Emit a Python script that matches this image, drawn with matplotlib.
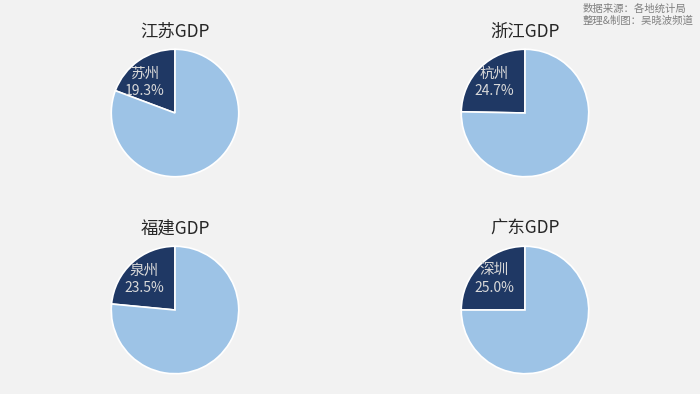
import matplotlib
matplotlib.use("Agg")
import matplotlib.pyplot as plt

plt.rcParams["font.family"] = ["Noto Sans CJK SC", "DejaVu Sans"]

# data
provinces = ["江苏GDP", "浙江GDP", "福建GDP", "广东GDP"]
cities = ["苏州", "杭州", "泉州", "深圳"]
shares = [19.3, 24.7, 23.5, 25.0]

W, H = 700, 394
fig = plt.figure(figsize=(W / 100, H / 100), dpi=100)
fig.patch.set_facecolor("#f2f2f2")

# pie centres in pixels
centres = [(175, 113), (525, 113), (175, 310), (525, 310)]
r = 65

for (cx, cy), prov, city, share in zip(centres, provinces, cities, shares):
    ax = fig.add_axes([(cx - r) / W, (H - cy - r) / H, 2 * r / W, 2 * r / H])
    ax.pie(
        [share, 100 - share],
        colors=["#1f3864", "#9dc3e6"],
        startangle=90,
        counterclock=True,
        radius=1,
        wedgeprops=dict(edgecolor="white", linewidth=1.2),
    )
    ax.set_xlim(-1.02, 1.02)
    ax.set_ylim(-1.02, 1.02)
    ax.set_aspect("equal")
    ax.axis("off")

    # label inside the dark slice
    ax.text(-0.48, 0.62, city, ha="center", va="center",
            fontsize=10.5, color="#d9d9d9")
    ax.text(-0.48, 0.34, f"{share:.1f}%", ha="center", va="center",
            fontsize=10, color="#d9d9d9")

    # title above pie
    fig.text(cx / W, 1 - (cy - r - 16) / H, prov, ha="center", va="center",
             fontsize=12.5, color="#262626")

# source note
fig.text(583 / W, 1 - 9 / H, "数据来源：各地统计局", ha="left", va="center",
         fontsize=7.5, color="#808080")
fig.text(583 / W, 1 - 21 / H, "整理&制图：吴晓波频道", ha="left", va="center",
         fontsize=7.5, color="#808080")

fig.savefig("out.png", dpi=100, facecolor=fig.get_facecolor())
